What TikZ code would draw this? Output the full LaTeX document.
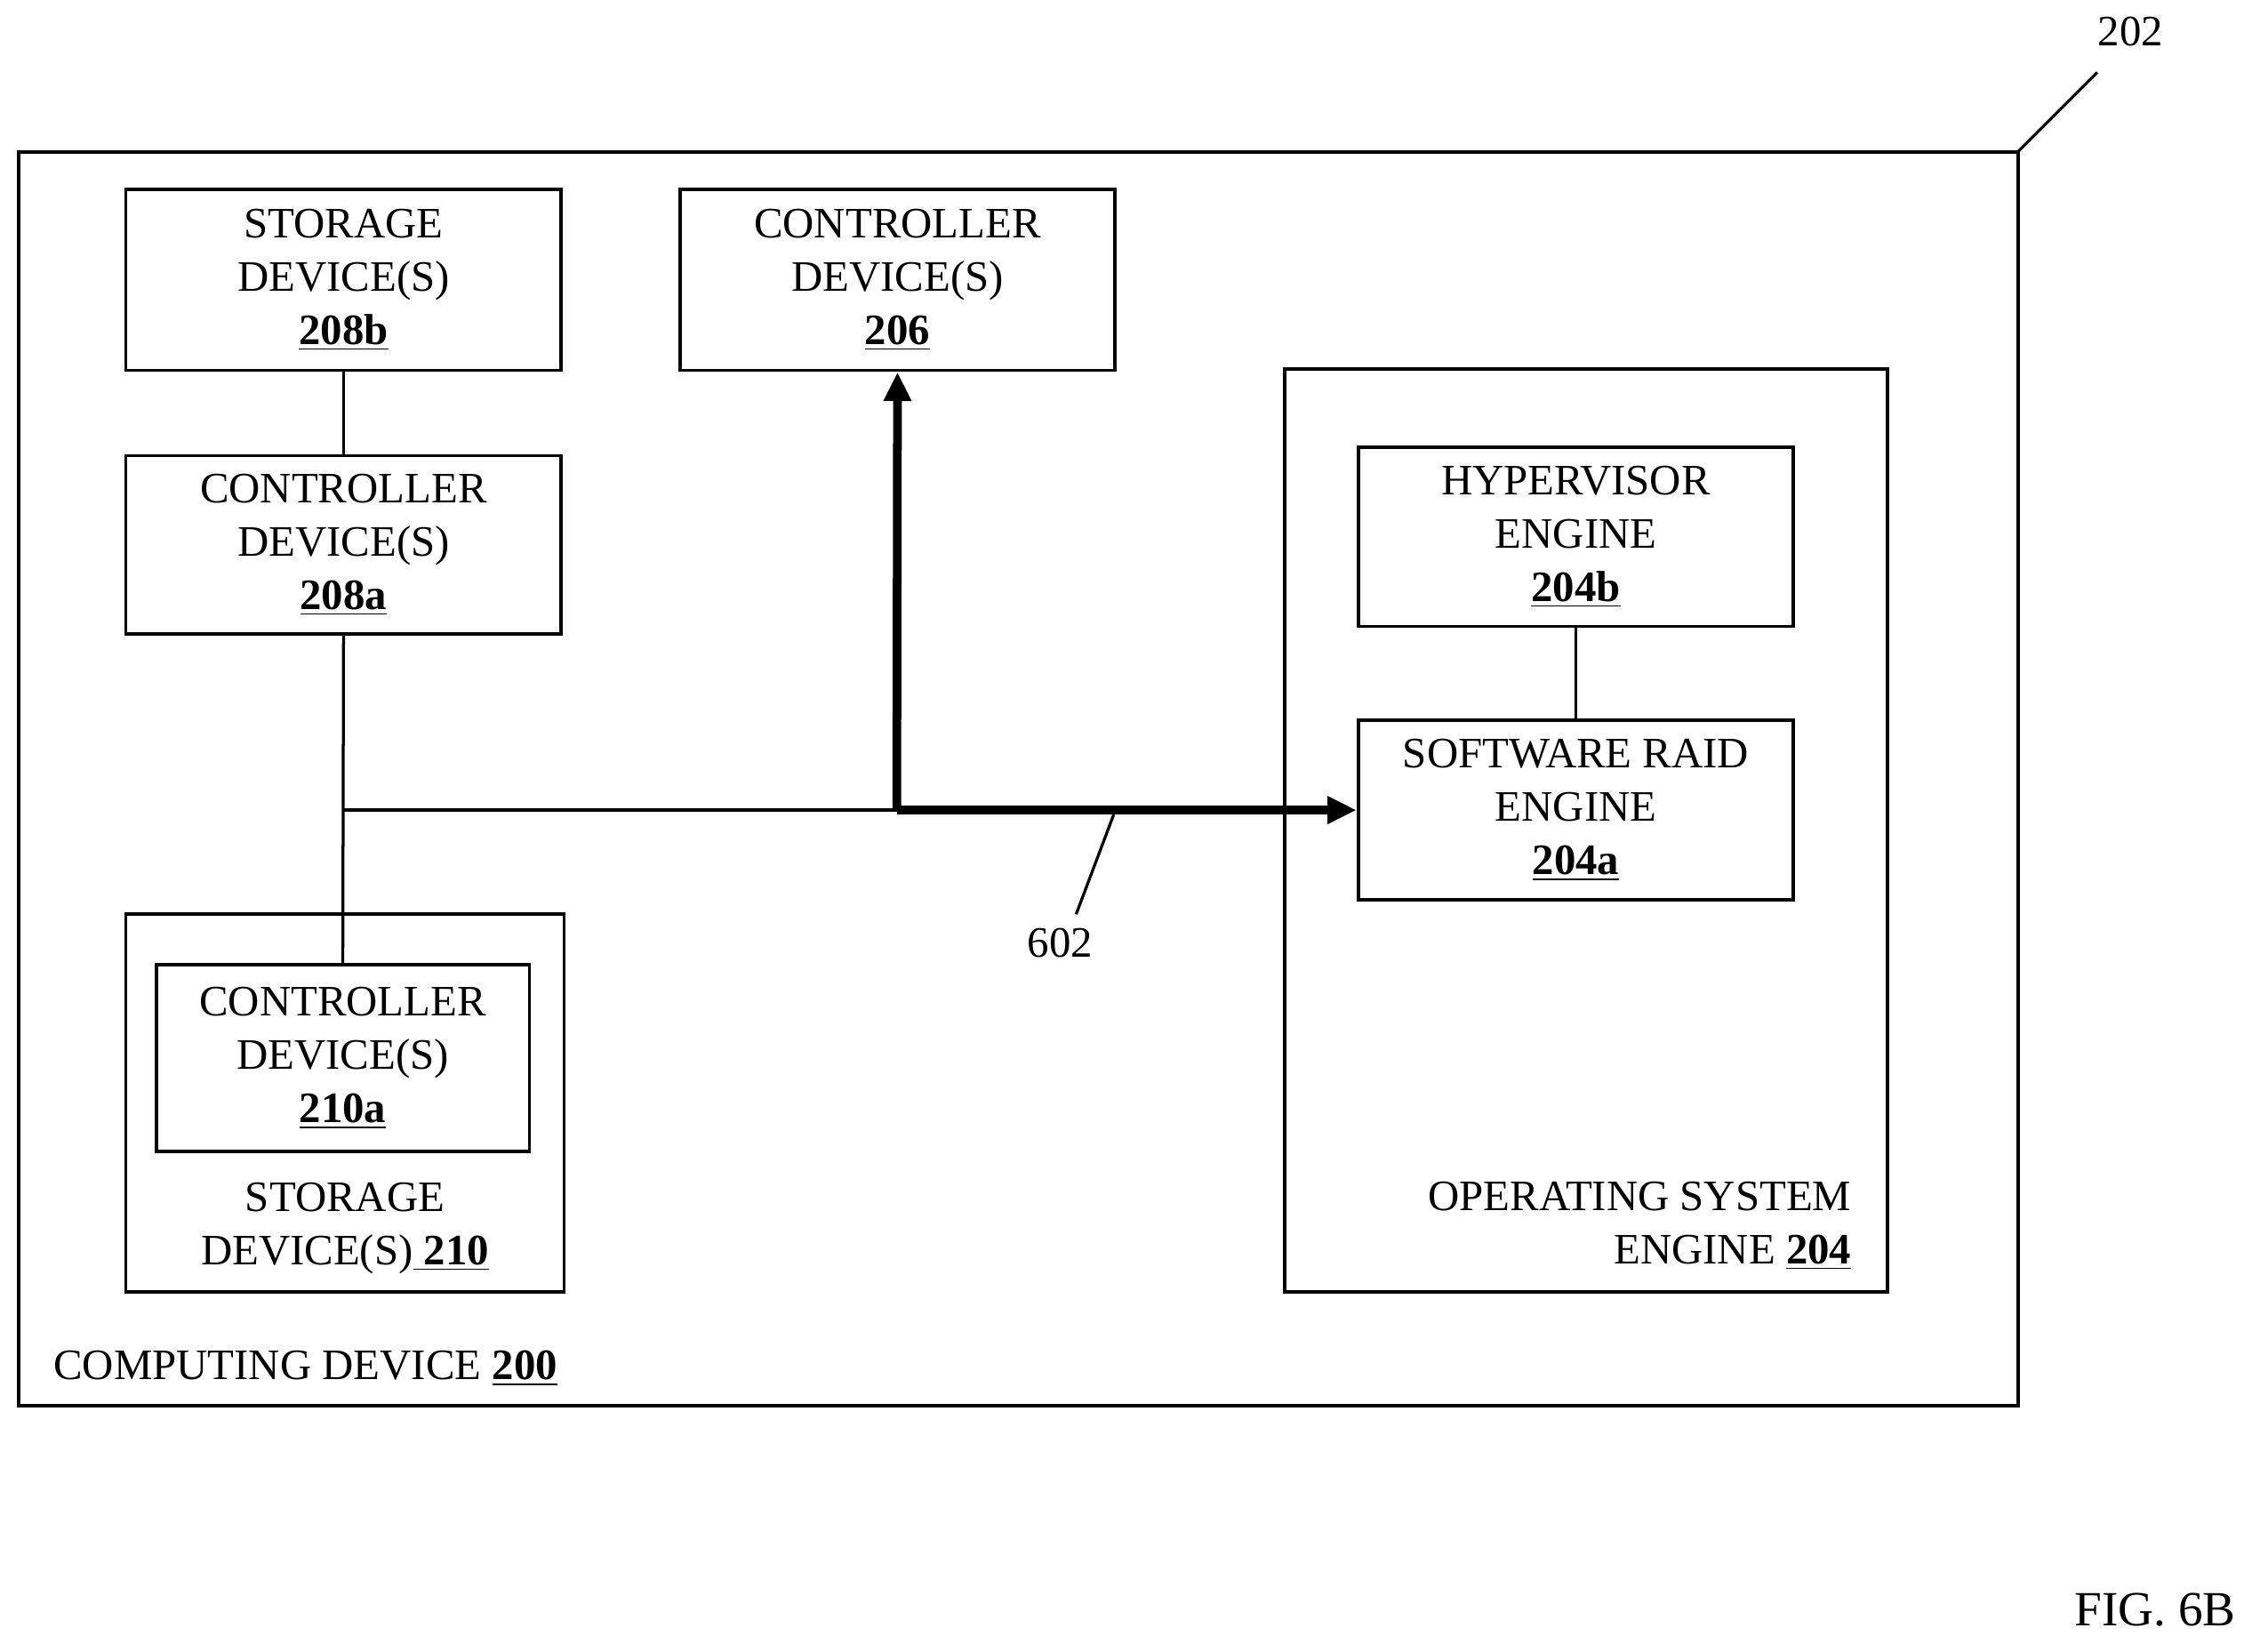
\documentclass[tikz,border=0pt]{standalone}
\usepackage{fontspec}
\setmainfont{Liberation Serif}
\usetikzlibrary{arrows.meta}
\begin{document}
\begin{tikzpicture}[x=0.5pt,y=-0.5pt,
  bx/.style={draw,line width=1.2pt},
  t/.style={font=\fontsize{15}{18.5}\selectfont,align=center},
  ln/.style={line width=1pt},
  th/.style={line width=3pt,-{Triangle[length=10pt,width=9pt]}}]
\useasboundingbox (0,0) rectangle (1568,1142);
\draw[bx] (13,105) rectangle (1395,972);
\node[t,anchor=west] (cd) at (30,946) {COMPUTING DEVICE \underline{\textbf{200}}};
\node[t] (l202) at (1473,22) {202};
\coordinate (c202) at (1450,50);
\draw[ln] (1395,105) -- (c202);
\node[bx,t,minimum width=150.5pt,minimum height=62.5pt] (s208b) at (237.5,193.5) {STORAGE\\DEVICE(S)\\\underline{\textbf{208b}}};
\node[bx,t,minimum width=150.5pt,minimum height=62.5pt] (c206) at (620.5,193.5) {CONTROLLER\\DEVICE(S)\\\underline{\textbf{206}}};
\node[bx,t,minimum width=150.5pt,minimum height=61.5pt] (c208a) at (237.5,376.5) {CONTROLLER\\DEVICE(S)\\\underline{\textbf{208a}}};
\draw[bx] (888,255) rectangle (1305,893);
\node[t,align=right,anchor=south east] (os) at (1287,885) {OPERATING SYSTEM\\ENGINE \underline{\textbf{204}}};
\node[bx,t,minimum width=150.5pt,minimum height=62pt] (h204b) at (1089.5,371) {HYPERVISOR\\ENGINE\\\underline{\textbf{204b}}};
\node[bx,t,minimum width=150.5pt,minimum height=62pt] (r204a) at (1089.5,560) {SOFTWARE RAID\\ENGINE\\\underline{\textbf{204a}}};
\draw[bx] (87,632) rectangle (390,893);
\node[t] (s210) at (238.5,849) {STORAGE\\DEVICE(S)\underline{\textbf{ 210}}};
\node[bx,t,minimum width=129pt,minimum height=64.5pt] (c210a) at (237,731.5) {CONTROLLER\\DEVICE(S)\\\underline{\textbf{210a}}};
\draw[ln] (s208b.south) -- (c208a.south|-s208b.south) -- (c208a.north);
\draw[ln] (c208a.south) -- (c210a.north);
\coordinate (j1) at (237,560);
\coordinate (j2) at (620,560);
\draw[ln] (j1) -- (j2);
\draw[th] (j2) -- (r204a.west);
\draw[th] (j2) -- (c206.south);
\draw[ln] (h204b.south) -- (r204a.north);
\node[t] (l602) at (733,652) {602};
\coordinate (c602) at (770,563);
\draw[ln] (744,632) -- (c602);
\node[font=\fontsize{17}{20}\selectfont] (fig) at (1490,1113) {FIG. 6B};
\end{tikzpicture}
\end{document}
